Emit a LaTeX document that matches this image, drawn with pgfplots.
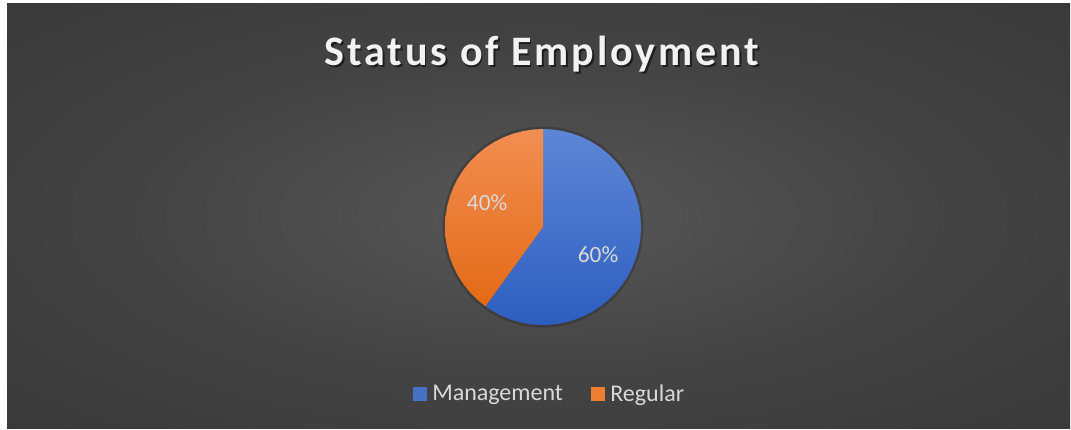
\documentclass[border=0pt]{standalone}
\usepackage{pgfplots}
\pgfplotsset{compat=1.18}
\usepgfplotslibrary{polar}
\usepackage{fontspec}
\setmainfont{Carlito}
\newfontfamily\titlefont[LetterSpace=7]{Carlito}
\definecolor{bgin}{HTML}{585858}
\definecolor{bgmid}{HTML}{444444}
\definecolor{bgedge}{HTML}{303030}
\definecolor{bgcorner}{HTML}{262626}
\definecolor{blueT}{HTML}{5E86D6}
\definecolor{blueB}{HTML}{2D5EBF}
\definecolor{blueL}{HTML}{4472C4}
\definecolor{orT}{HTML}{F28E52}
\definecolor{orB}{HTML}{E36A16}
\definecolor{orL}{HTML}{ED7D31}
\definecolor{labtext}{HTML}{D9D9D9}
\pgfdeclareradialshading{bgshade}{\pgfpoint{0bp}{0bp}}{color(0bp)=(bgin); color(18bp)=(bgmid); color(50bp)=(bgedge); color(72bp)=(bgcorner)}
\begin{document}
\begin{tikzpicture}[x=0.75pt,y=0.75pt]
\useasboundingbox (0,0) rectangle (1071,429);
\fill[white] (0,0) rectangle (1071,429);
\shade[shading=bgshade] (7,1) rectangle (1070,425);
\node[anchor=base, text=black, opacity=0.55] at (543.5,361.5) {\titlefont\bfseries\fontsize{31.5}{36}\selectfont Status of Employment};
\node[anchor=base, text=white!95!black] at (542,363) {\titlefont\bfseries\fontsize{31.5}{36}\selectfont Status of Employment};
\begin{polaraxis}[
  at={(407.25pt,151.5pt)}, anchor=center,
  scale only axis, width=147pt, height=147pt,
  hide axis, ymin=0, ymax=1, clip=false,
  legend style={at={(0.535,-0.352)}, anchor=center, draw=none, fill=none,
    font=\fontsize{18}{20}\selectfont, text=labtext,
    /tikz/every even column/.append style={column sep=19pt}},
  legend columns=2, legend cell align=left,
]
\fill[black, opacity=0.18] (axis cs:0,0) circle[radius=100.5*0.75pt];
\addplot[draw=none, top color=blueT, bottom color=blueB, forget plot] coordinates {
(0,0) (90,1) (84,1) (78,1) (72,1) (66,1) (60,1) (54,1) (48,1) (42,1) (36,1) (30,1) (24,1) (18,1) (12,1) (6,1) (0,1)
(-6,1) (-12,1) (-18,1) (-24,1) (-30,1) (-36,1) (-42,1) (-48,1) (-54,1) (-60,1) (-66,1) (-72,1) (-78,1) (-84,1) (-90,1)
(-96,1) (-102,1) (-108,1) (-114,1) (-120,1) (-126,1) (0,0)} -- cycle;
\addplot[draw=none, top color=orT, bottom color=orB, forget plot] coordinates {
(0,0) (-126,1) (-132,1) (-138,1) (-144,1) (-150,1) (-156,1) (-162,1) (-168,1) (-174,1) (-180,1) (-186,1) (-192,1)
(-198,1) (-204,1) (-210,1) (-216,1) (-222,1) (-228,1) (-234,1) (-240,1) (-246,1) (-252,1) (-258,1) (-264,1) (-270,1) (0,0)} -- cycle;
\node[text=labtext, font=\fontsize{17.5}{20}\selectfont] at (axis cs:-27,0.63) {60\%};
\node[text=labtext, font=\fontsize{17.5}{20}\selectfont] at (axis cs:156.8,0.62) {40\%};
\addlegendimage{legend image code/.code={\fill[blueL, draw=none] (0pt,-5.25pt) rectangle (10.5pt,5.25pt); \path[draw=none, fill=none] (0pt,0pt) -- (12.5pt,0pt);}}
\addlegendentry{Management}
\addlegendimage{legend image code/.code={\fill[orL, draw=none] (0pt,-5.25pt) rectangle (10.5pt,5.25pt); \path[draw=none, fill=none] (0pt,0pt) -- (12.5pt,0pt);}}
\addlegendentry{Regular}
\end{polaraxis}
\end{tikzpicture}
\end{document}
